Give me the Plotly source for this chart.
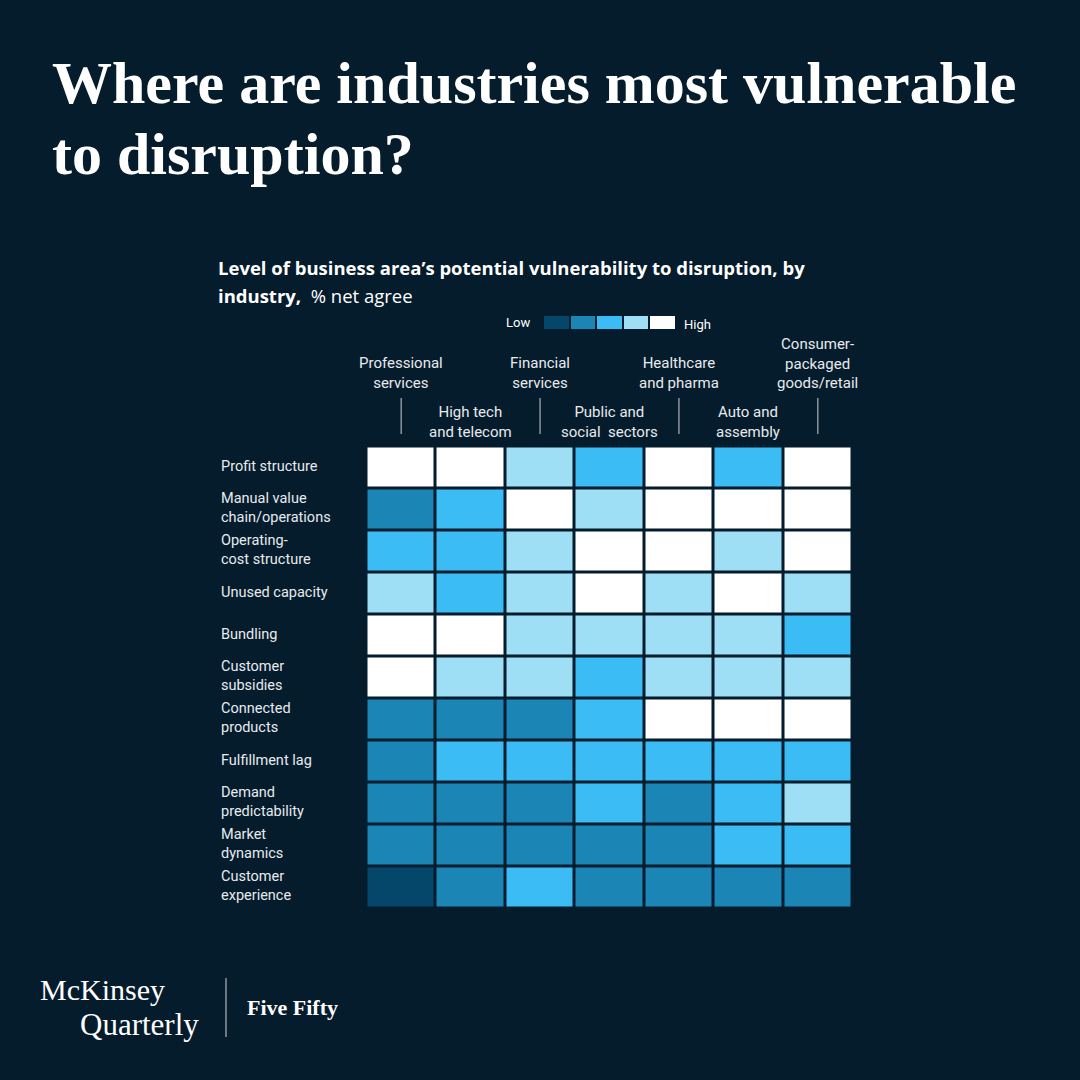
import plotly.graph_objects as go

industries = ["Professional<br>services", "High tech<br>and telecom", "Financial<br>services",
              "Public and<br>social  sectors", "Healthcare<br>and pharma", "Auto and<br>assembly",
              "Consumer-<br>packaged<br>goods/retail"]
areas = ["Profit structure", "Manual value<br>chain/operations", "Operating-<br>cost structure",
         "Unused capacity", "Bundling", "Customer<br>subsidies", "Connected<br>products",
         "Fulfillment lag", "Demand<br>predictability", "Market<br>dynamics", "Customer<br>experience"]
# vulnerability level: 1 = low ... 5 = high
levels = [
    [5, 5, 4, 3, 5, 3, 5],
    [2, 3, 5, 4, 5, 5, 5],
    [3, 3, 4, 5, 5, 4, 5],
    [4, 3, 4, 5, 4, 5, 4],
    [5, 5, 4, 4, 4, 4, 3],
    [5, 4, 4, 3, 4, 4, 4],
    [2, 2, 2, 3, 5, 5, 5],
    [2, 3, 3, 3, 3, 3, 3],
    [2, 2, 2, 3, 2, 3, 4],
    [2, 2, 2, 2, 2, 3, 3],
    [1, 2, 3, 2, 2, 2, 2],
]
legend_levels = [1, 2, 3, 4, 5]

BG = "#051c2c"
palette = ["#05476a", "#1b85b5", "#3bbcf4", "#9edff5", "#ffffff"]
cs = []
for i, c in enumerate(palette):
    cs.append([i / 5, c])
    cs.append([(i + 1) / 5, c])

W = 1080.0
def px(v):
    return v / W
def py(v):
    return 1 - v / W

fig = go.Figure()
fig.add_trace(go.Heatmap(
    z=levels, x=list(range(7)), y=list(range(11)), zmin=0.5, zmax=5.5,
    colorscale=cs, showscale=False, xgap=3, ygap=3, hoverinfo="skip",
    xaxis="x", yaxis="y"))
fig.add_trace(go.Heatmap(
    z=[legend_levels], x=list(range(5)), y=[0], zmin=0.5, zmax=5.5,
    colorscale=cs, showscale=False, xgap=2, ygap=0, hoverinfo="skip",
    xaxis="x2", yaxis="y2"))

ann = []
# title
ann.append(dict(text="<b>Where are industries most vulnerable</b>", x=px(50), y=py(83),
                xref="paper", yref="paper", xanchor="left", yanchor="middle", showarrow=False,
                font=dict(family="Liberation Serif", size=60, color="#ffffff")))
ann.append(dict(text="<b>to disruption?</b>", x=px(50), y=py(154),
                xref="paper", yref="paper", xanchor="left", yanchor="middle", showarrow=False,
                font=dict(family="Liberation Serif", size=60, color="#ffffff")))
# subtitle
ann.append(dict(text="<b>Level of business area’s potential vulnerability to disruption, by</b>",
                x=px(216), y=py(268), xref="paper", yref="paper", xanchor="left", yanchor="middle",
                showarrow=False, font=dict(family="Open Sans", size=18.5, color="#ffffff")))
ann.append(dict(text="<b>industry,</b>  % net agree",
                x=px(216), y=py(295), xref="paper", yref="paper", xanchor="left", yanchor="middle",
                showarrow=False, font=dict(family="Open Sans", size=18.5, color="#ffffff")))
# legend labels
ann.append(dict(text="Low", x=px(532), y=py(322), xref="paper", yref="paper", xanchor="right",
                yanchor="middle", showarrow=False, font=dict(family="Roboto", size=13, color="#ffffff")))
ann.append(dict(text="High", x=px(682), y=py(324), xref="paper", yref="paper", xanchor="left",
                yanchor="middle", showarrow=False, font=dict(family="Roboto", size=13, color="#ffffff")))
# column headers
for i, name in enumerate(industries):
    bottom = 394 if i % 2 == 0 else 443
    ann.append(dict(text=name, x=i, y=py(bottom), xref="x", yref="paper", xanchor="center",
                    yanchor="bottom", showarrow=False, align="center",
                    font=dict(family="Roboto", size=15, color="#e8ebee")))
# row labels
for j, name in enumerate(areas):
    ann.append(dict(text=name, x=px(219), y=j - 0.03, xref="paper", yref="y", xanchor="left",
                    yanchor="middle", showarrow=False, align="left",
                    font=dict(family="Roboto", size=14.5, color="#e8ebee")))
# footer
ann.append(dict(text="McKinsey", x=px(38), y=py(989), xref="paper", yref="paper", xanchor="left",
                yanchor="middle", showarrow=False, font=dict(family="Liberation Serif", size=30, color="#ffffff")))
ann.append(dict(text="Quarterly", x=px(78), y=py(1024), xref="paper", yref="paper", xanchor="left",
                yanchor="middle", showarrow=False, font=dict(family="Liberation Serif", size=31, color="#ffffff")))
ann.append(dict(text="<b>Five Fifty</b>", x=px(245), y=py(1007), xref="paper", yref="paper", xanchor="left",
                yanchor="middle", showarrow=False, font=dict(family="Liberation Serif", size=22, color="#ffffff")))

shapes = []
for i in range(0, 7, 2):
    shapes.append(dict(type="line", xref="x", yref="paper", x0=i, x1=i, y0=py(398), y1=py(434),
                       line=dict(color="#8a96a0", width=1.5)))
shapes.append(dict(type="line", xref="paper", yref="paper", x0=px(226), x1=px(226), y0=py(978), y1=py(1037),
                   line=dict(color="#8a96a0", width=1.5)))

fig.update_layout(
    width=1080, height=1080, margin=dict(l=0, r=0, t=0, b=0),
    paper_bgcolor=BG, plot_bgcolor=BG, showlegend=False,
    xaxis=dict(domain=[px(366.5), px(852.5)], range=[-0.5, 6.5], visible=False, fixedrange=True),
    yaxis=dict(domain=[py(908.5), py(446.5)], range=[10.5, -0.5], visible=False, fixedrange=True),
    xaxis2=dict(domain=[px(543), px(676)], range=[-0.5, 4.5], visible=False, anchor="y2", fixedrange=True),
    yaxis2=dict(domain=[py(329), py(316)], range=[-0.5, 0.5], visible=False, anchor="x2", fixedrange=True),
    annotations=ann, shapes=shapes,
)
fig.write_html("out.html")
